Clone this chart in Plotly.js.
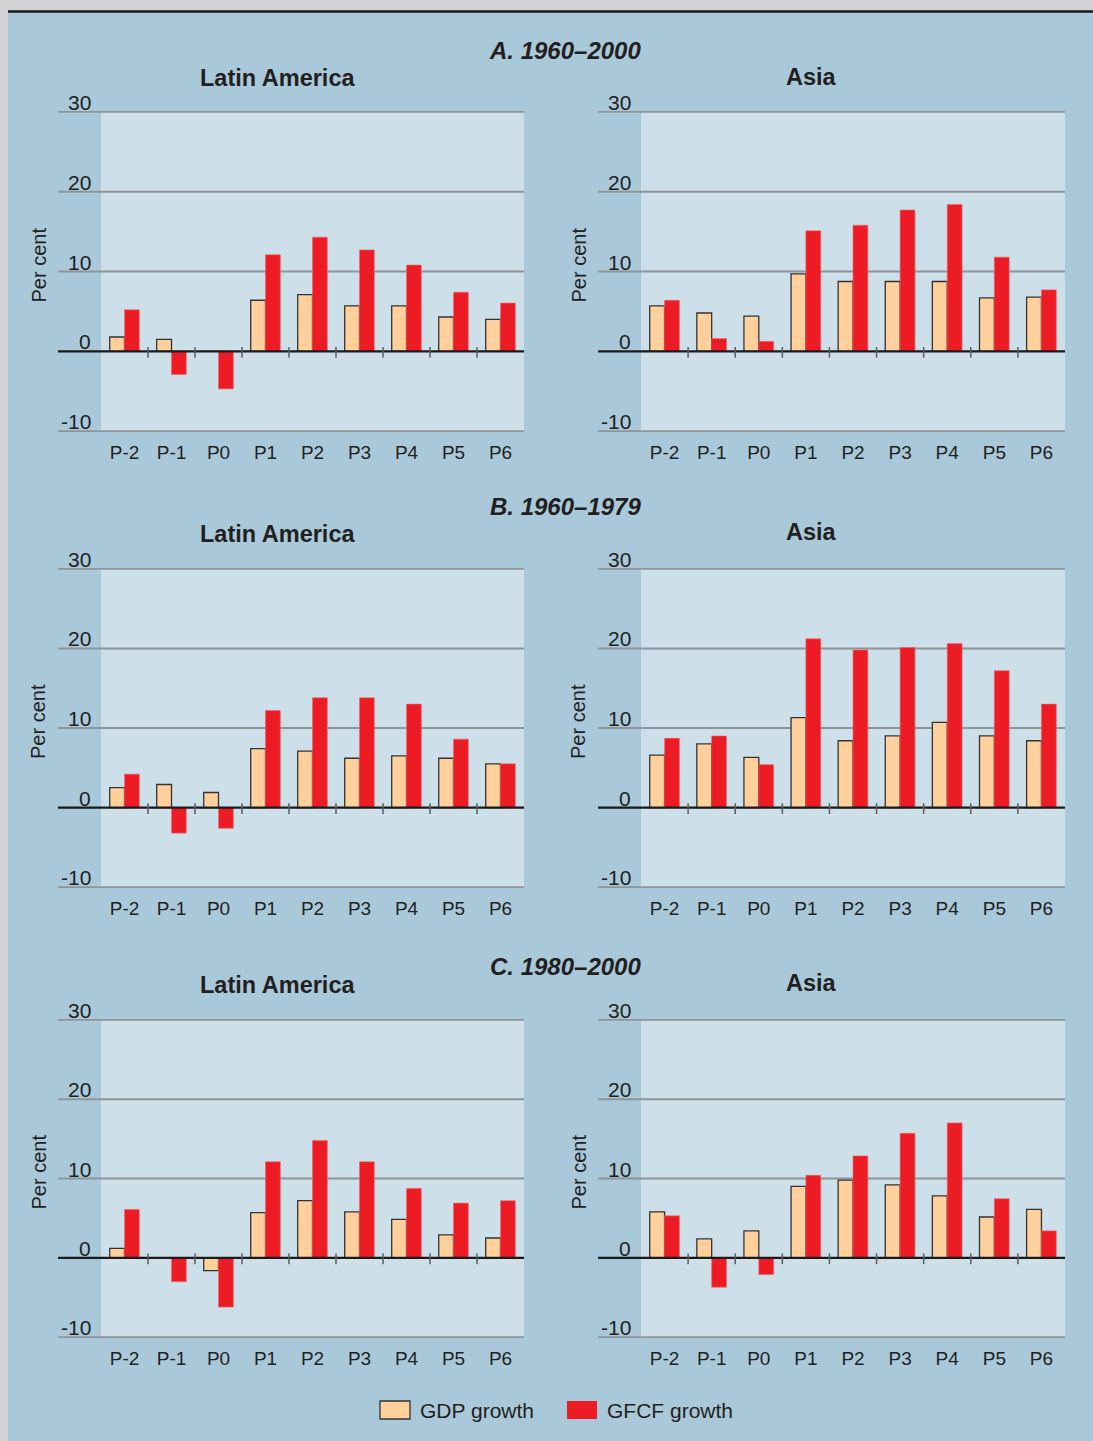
<!DOCTYPE html>
<html>
<head>
<meta charset="utf-8">
<script src="https://cdn.plot.ly/plotly-3.0.1.min.js"></script>
<style>
html,body{margin:0;padding:0;background:#a9c9da;}
#chart{width:1093px;height:1441px;}
</style>
</head>
<body>
<div id="chart"></div>
<script>
// ---------- DATA ----------
const categories = ['P-2','P-1','P0','P1','P2','P3','P4','P5','P6'];
const sectionTitles = ['A. 1960\u20132000','B. 1960\u20131979','C. 1980\u20132000'];
const regionTitles = ['Latin America','Asia'];
const seriesNames = ['GDP growth','GFCF growth'];
const yTickVals = [-10, 0, 10, 20, 30];
const yTickText = ['-10','0','10','20','30'];
const yAxisTitle = 'Per cent';

// Panel A: 1960-2000
const gdpA_LatAm  = [1.8, 1.5, 0, 6.4, 7.1, 5.7, 5.7, 4.3, 4.0];
const gfcfA_LatAm = [5.2, -2.9, -4.7, 12.1, 14.3, 12.7, 10.8, 7.4, 6.05];
const gdpA_Asia   = [5.7, 4.8, 4.4, 9.7, 8.75, 8.75, 8.75, 6.7, 6.8];
const gfcfA_Asia  = [6.4, 1.6, 1.25, 15.1, 15.8, 17.7, 18.4, 11.8, 7.7];
// Panel B: 1960-1979
const gdpB_LatAm  = [2.5, 2.9, 1.9, 7.4, 7.1, 6.2, 6.5, 6.2, 5.5];
const gfcfB_LatAm = [4.2, -3.2, -2.6, 12.2, 13.8, 13.8, 13.0, 8.6, 5.5];
const gdpB_Asia   = [6.6, 8.0, 6.3, 11.3, 8.4, 9.0, 10.7, 9.0, 8.4];
const gfcfB_Asia  = [8.7, 9.0, 5.4, 21.2, 19.8, 20.1, 20.6, 17.2, 13.0];
// Panel C: 1980-2000
const gdpC_LatAm  = [1.2, 0, -1.6, 5.7, 7.2, 5.8, 4.85, 2.9, 2.5];
const gfcfC_LatAm = [6.1, -3.0, -6.2, 12.1, 14.8, 12.1, 8.75, 6.9, 7.2];
const gdpC_Asia   = [5.8, 2.4, 3.4, 9.0, 9.8, 9.2, 7.8, 5.15, 6.1];
const gfcfC_Asia  = [5.3, -3.7, -2.1, 10.4, 12.85, 15.7, 17.0, 7.45, 3.4];

// ---------- STYLE / LAYOUT ----------
const W = 1093, H = 1441;
const C_PAPER = '#a9c9da', C_PLOT = '#cddfe8', C_GRAY = '#d3d3d5';
const C_GDP = '#ffd09b', C_GDP_LINE = '#333333', C_GFCF = '#ed1c24';
const C_TEXT = '#231f20', C_GRID = '#8f9496', C_ZERO = '#1a1a1a';
const FONT = '"Liberation Sans", Arial, Helvetica, sans-serif';

const px = v => v / W;
const py = v => 1 - v / H;

const panels = [
  [[gdpA_LatAm, gfcfA_LatAm], [gdpA_Asia, gfcfA_Asia]],
  [[gdpB_LatAm, gfcfB_LatAm], [gdpB_Asia, gfcfB_Asia]],
  [[gdpC_LatAm, gfcfC_LatAm], [gdpC_Asia, gfcfC_Asia]]
];

// pixel geometry
const colPlotLeft = [101, 641], colPlotRight = [524, 1065];
const colGridLeft = [58, 598];
const colTickRight = [93, 633];
const colTitleX = [278, 811];
const colYTitleX = [38, 578];
const rowTop = [111, 568, 1019], rowBottom = [432, 888, 1338];
const rowSectionY = [50, 507, 966];
const rowRegionY = [[78, 77], [534, 532], [985, 983]];

const data = [];
const layout = {
  width: W, height: H,
  margin: {l: 0, r: 0, t: 0, b: 0, pad: 0},
  paper_bgcolor: C_PAPER,
  plot_bgcolor: C_PLOT,
  barmode: 'group',
  bargap: 0.37,
  bargroupgap: 0,
  showlegend: false,
  font: {family: FONT, color: C_TEXT},
  shapes: [],
  annotations: []
};

// background framing
layout.shapes.push({type:'rect', xref:'paper', yref:'paper', x0:0, x1:px(8), y0:0, y1:1, fillcolor:C_GRAY, line:{width:0}, layer:'below'});
layout.shapes.push({type:'rect', xref:'paper', yref:'paper', x0:0, x1:1, y0:py(10.5), y1:1, fillcolor:C_GRAY, line:{width:0}, layer:'below'});
layout.shapes.push({type:'line', xref:'paper', yref:'paper', x0:px(8), x1:1, y0:py(11.5), y1:py(11.5), line:{color:'#1a1a1a', width:2.5}});

let idx = 0;
for (let r = 0; r < 3; r++) {
  layout.annotations.push({
    text: '<b><i>' + sectionTitles[r] + '</i></b>', xref:'paper', yref:'paper',
    x: px(565), y: py(rowSectionY[r]), xanchor:'center', yanchor:'middle',
    showarrow:false, font:{size:24, color:C_TEXT, family:FONT}
  });
  for (let c = 0; c < 2; c++) {
    idx++;
    const xa = idx === 1 ? 'x' : 'x' + idx;
    const ya = idx === 1 ? 'y' : 'y' + idx;
    const xKey = idx === 1 ? 'xaxis' : 'xaxis' + idx;
    const yKey = idx === 1 ? 'yaxis' : 'yaxis' + idx;
    const [gdp, gfcf] = panels[r][c];

    data.push({
      type:'bar', x: categories, y: gdp, name: seriesNames[0], xaxis: xa, yaxis: ya,
      marker:{color:C_GDP, line:{color:C_GDP_LINE, width:1.3}}, hoverinfo:'x+y+name'
    });
    data.push({
      type:'bar', x: categories, y: gfcf, name: seriesNames[1], xaxis: xa, yaxis: ya,
      marker:{color:C_GFCF, line:{color:'#f0646a', width:0.6}}, hoverinfo:'x+y+name'
    });

    layout[xKey] = {
      domain:[px(colPlotLeft[c]), px(colPlotRight[c])],
      anchor: ya, type:'category', range:[-0.5, categories.length - 0.5],
      showgrid:false, zeroline:false, showline:false,
      ticks:'outside', ticklen:3, tickcolor:'rgba(0,0,0,0)',
      tickfont:{size:19, color:C_TEXT, family:FONT}, fixedrange:true
    };
    layout[yKey] = {
      domain:[py(rowBottom[r]), py(rowTop[r])],
      anchor: xa, range:[-10.1, 30.1],
      showgrid:false, zeroline:false, showline:false, showticklabels:false, ticks:'',
      fixedrange:true
    };

    // grid lines + tick labels
    yTickVals.forEach((v, i) => {
      layout.shapes.push({
        type:'line', xref:'paper', yref: ya,
        x0: px(colGridLeft[c]), x1: px(colPlotRight[c]), y0: v, y1: v,
        line:{color: v === 0 ? C_ZERO : C_GRID, width: v === 0 ? 2.4 : 2},
        layer: v === 0 ? 'above' : 'below'
      });
      layout.annotations.push({
        text: yTickText[i], xref:'paper', yref: ya,
        x: px(colTickRight[c]), y: v, xanchor:'right', yanchor:'bottom', yshift:-4,
        showarrow:false, font:{size:21, color:C_TEXT, family:FONT}
      });
    });
    // category divider ticks on zero line
    for (let k = 0; k < categories.length - 1; k++) {
      layout.shapes.push({
        type:'line', xref: xa, yref: ya, x0: k + 0.5, x1: k + 0.5, y0: 0.55, y1: -0.8,
        line:{color:'#5a5e60', width:1.5}, layer:'above'
      });
    }
    // region title
    layout.annotations.push({
      text:'<b>' + regionTitles[c] + '</b>', xref:'paper', yref:'paper',
      x: px(colTitleX[c]), y: py(rowRegionY[r][c]), xanchor:'center', yanchor:'middle',
      showarrow:false, font:{size:23.5, color:C_TEXT, family:FONT}
    });
    // y-axis title
    layout.annotations.push({
      text: yAxisTitle, xref:'paper', yref:'paper', textangle:-90,
      x: px(colYTitleX[c]), y: py((rowTop[r] + rowBottom[r]) / 2 - 6), xanchor:'center', yanchor:'middle',
      showarrow:false, font:{size:20, color:C_TEXT, family:FONT}
    });
  }
}

// legend keys
const legendBoxes = [[380, 410, 1401, 1419], [567, 597, 1401, 1419]];
const legendTextX = [418, 605];
const legendColors = [C_GDP, C_GFCF];
seriesNames.forEach((n, i) => {
  const b = legendBoxes[i];
  layout.shapes.push({
    type:'rect', xref:'paper', yref:'paper', x0:px(b[0]), x1:px(b[1]), y0:py(b[3]), y1:py(b[2]),
    fillcolor: legendColors[i], line:{color: i === 0 ? C_GDP_LINE : C_GFCF, width: i === 0 ? 1.3 : 0}
  });
  layout.annotations.push({
    text: n, xref:'paper', yref:'paper', x:px(legendTextX[i]), y:py(1410),
    xanchor:'left', yanchor:'middle', showarrow:false,
    font:{size:21, color:C_TEXT, family:FONT}
  });
});

Plotly.newPlot('chart', data, layout, {displayModeBar:false, staticPlot:true});
</script>
</body>
</html>
